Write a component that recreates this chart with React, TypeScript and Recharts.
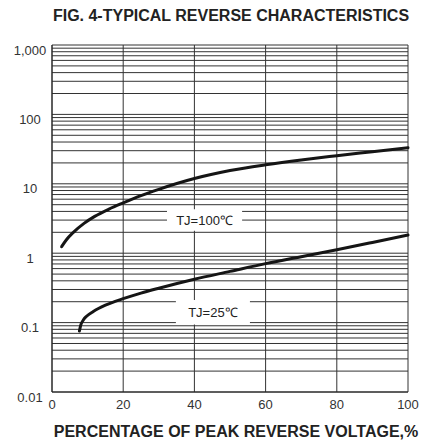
import React from "react";
import {
  LineChart,
  Line,
  XAxis,
  YAxis,
  CartesianGrid,
  ReferenceArea,
} from "recharts";

// percentage of peak reverse voltage (x) vs reverse current (y)
const tj100X = [2.7, 4, 6, 9, 12, 16, 20, 25, 30, 40, 50, 60, 70, 80, 90, 100];
const tj100Y = [1.24, 1.55, 2.0, 2.69, 3.39, 4.32, 5.31, 6.76, 8.32, 11.9, 15.5, 18.8, 22.1, 25.4, 29.0, 33.1];

const tj25X = [7.7, 8.0, 8.8, 9.8, 11.6, 15, 20, 25, 30, 40, 50, 60, 70, 80, 90, 100];
const tj25Y = [0.0757, 0.0893, 0.109, 0.1245, 0.1445, 0.178, 0.221, 0.266, 0.313, 0.422, 0.547, 0.708, 0.891, 1.122, 1.429, 1.828];

const xTicks = [0, 20, 40, 60, 80, 100];
const yTicks = [
  0.01, 0.02, 0.03, 0.04, 0.05, 0.06, 0.07, 0.08, 0.09,
  0.1, 0.2, 0.3, 0.4, 0.5, 0.6, 0.7, 0.8, 0.9,
  1, 2, 3, 4, 5, 6, 7, 8, 9,
  10, 20, 30, 40, 50, 60, 70, 80, 90,
  100, 200, 300, 400, 500, 600, 700, 800, 900,
  1000,
];
const yDecades = [0.01, 0.1, 1, 10, 100, 1000];
const yDecadeLabels = ["0.01", "0.1", "1", "10", "100", "1,000"];

const tj100Data = tj100X.map((x, i) => ({ x, y: tj100Y[i] }));
const tj25Data = tj25X.map((x, i) => ({ x, y: tj25Y[i] }));

const FONT = "'Liberation Sans', Arial, sans-serif";

const YTick = (props: any) => {
  const { y, payload } = props;
  const idx = yDecades.indexOf(payload.value);
  if (idx < 0) return <g />;
  return (
    <text
      x={30}
      y={y + 5}
      dy="0.35em"
      textAnchor="middle"
      fontSize={13}
      fontFamily={FONT}
      fill="#333"
    >
      {yDecadeLabels[idx]}
    </text>
  );
};

const App: React.FC = () => {
  return (
    <div
      style={{
        position: "absolute",
        left: 0,
        top: 0,
        width: 428,
        height: 442,
        background: "#fff",
        fontFamily: FONT,
      }}
    >
      <div
        style={{
          position: "absolute",
          left: 231,
          top: 8,
          transform: "translateX(-50%)",
          whiteSpace: "nowrap",
          fontSize: 16,
          lineHeight: "16px",
          fontWeight: "bold",
          color: "#222",
        }}
      >
        FIG. 4-TYPICAL REVERSE CHARACTERISTICS
      </div>
      <LineChart
        width={428}
        height={442}
        margin={{ top: 45, right: 20, bottom: 20, left: 0 }}
      >
        <CartesianGrid stroke="#333" strokeWidth={1} />
        <XAxis
          type="number"
          dataKey="x"
          domain={[0, 100]}
          ticks={xTicks}
          interval={0}
          height={30}
          tickLine={false}
          axisLine={{ stroke: "#222" }}
          tick={{ fontSize: 13, fill: "#333", fontFamily: FONT }}
        />
        <YAxis
          type="number"
          dataKey="y"
          scale="log"
          domain={[0.01, 1000]}
          allowDataOverflow
          ticks={yTicks}
          interval={0}
          width={52}
          tickLine={false}
          axisLine={{ stroke: "#222" }}
          tick={YTick}
        />
        <ReferenceArea
          x1={32.3}
          x2={53.4}
          y1={2.1}
          y2={4.3}
          fill="#fff"
          fillOpacity={1}
          stroke="none"
          label={{ value: "TJ=100℃", position: "center", fontSize: 13, fill: "#222", fontFamily: FONT }}
        />
        <ReferenceArea
          x1={34.8}
          x2={55.6}
          y1={0.094}
          y2={0.212}
          fill="#fff"
          fillOpacity={1}
          stroke="none"
          label={{ value: "TJ=25℃", position: "center", fontSize: 13, fill: "#222", fontFamily: FONT }}
        />
        <Line
          data={tj100Data}
          dataKey="y"
          type="monotone"
          stroke="#151515"
          strokeWidth={3}
          strokeLinecap="round"
          dot={false}
          isAnimationActive={false}
        />
        <Line
          data={tj25Data}
          dataKey="y"
          type="monotone"
          stroke="#151515"
          strokeWidth={3}
          strokeLinecap="round"
          dot={false}
          isAnimationActive={false}
        />
      </LineChart>
      <div
        style={{
          position: "absolute",
          left: 236,
          top: 423.5,
          transform: "translateX(-50%)",
          whiteSpace: "nowrap",
          fontSize: 16,
          lineHeight: "16px",
          fontWeight: "bold",
          color: "#222",
        }}
      >
        PERCENTAGE OF PEAK REVERSE VOLTAGE,%
      </div>
    </div>
  );
};

export default App;
